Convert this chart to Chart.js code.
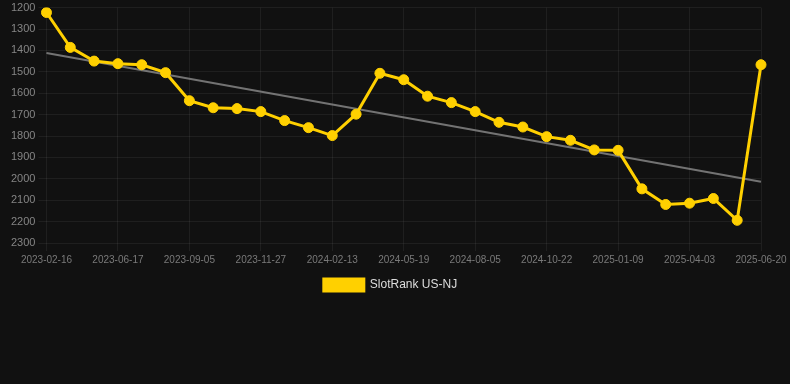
<!DOCTYPE html>
<html>
<head>
<meta charset="utf-8">
<script src="https://cdn.jsdelivr.net/npm/chart.js@4.4.1/dist/chart.umd.min.js"></script>
<style>
    html, body { margin: 0; padding: 0; background: #111111; overflow: hidden; }
    #wrap { width: 790px; height: 303px; position: relative; margin-top: -2px; }
</style>
</head>
<body>
<div id="wrap"><canvas id="rankChart"></canvas></div>
<script>
const dates = [
    '2023-02-16', '2023-03-28', '2023-05-08', '2023-06-17', '2023-07-14', '2023-08-09',
    '2023-09-05', '2023-10-02', '2023-10-31', '2023-11-27', '2023-12-23', '2024-01-18',
    '2024-02-13', '2024-03-16', '2024-04-17', '2024-05-19', '2024-06-14', '2024-07-10',
    '2024-08-05', '2024-08-31', '2024-09-26', '2024-10-22', '2024-11-17', '2024-12-14',
    '2025-01-09', '2025-02-06', '2025-03-06', '2025-04-03', '2025-04-29', '2025-05-25',
    '2025-06-20'
];
const ranks = [
    1223, 1386, 1450, 1462, 1467, 1504,
    1635, 1668, 1672, 1686, 1728, 1761,
    1798, 1698, 1507, 1537, 1614, 1644,
    1686, 1736, 1758, 1803, 1820, 1865,
    1867, 2047, 2120, 2114, 2092, 2194,
    1467
];
// trend line: value at first and last date
const trendEnds = [1412, 2014];
const yTicks = [1200, 1300, 1400, 1500, 1600, 1700, 1800, 1900, 2000, 2100, 2200, 2300];

const trendData = dates.map((d, i) => {
    if (i === 0) return trendEnds[0];
    if (i === dates.length - 1) return trendEnds[1];
    return null;
});

// nudge the legend a bit to the right, like the original
const legendShift = {
    id: 'legendShift',
    afterLayout(chart) {
        chart.legend.left += 6;
        chart.legend.right += 6;
    }
};

const ctx = document.getElementById('rankChart').getContext('2d');
new Chart(ctx, {
    type: 'line',
    data: {
        labels: dates,
        datasets: [{
            label: 'SlotRank US-NJ',
            data: ranks,
            borderColor: '#ffd000',
            backgroundColor: '#ffd000',
            borderWidth: 3,
            pointRadius: 5,
            pointHoverRadius: 5,
            pointBackgroundColor: '#ffd000',
            pointBorderColor: '#ffd000',
            pointBorderWidth: 1,
            tension: 0,
            order: 1
        }, {
            label: 'Trend',
            data: trendData,
            spanGaps: true,
            borderColor: 'rgba(140, 140, 140, 0.8)',
            borderWidth: 2,
            pointRadius: 0,
            order: 2
        }]
    },
    options: {
        responsive: true,
        maintainAspectRatio: false,
        animation: false,
        layout: { padding: { left: 8, right: 29, top: 0, bottom: 0 } },
        scales: {
            y: {
                reverse: true,
                min: yTicks[0],
                max: yTicks[yTicks.length - 1],
                afterBuildTicks: scale => { scale.ticks = yTicks.map(v => ({ value: v })); },
                ticks: {
                    color: '#858585',
                    font: { family: 'Liberation Sans, Arial, sans-serif', size: 11 },
                    callback: value => String(value)
                },
                grid: { color: 'rgba(255, 255, 255, 0.06)' },
                border: { display: false }
            },
            x: {
                ticks: {
                    autoSkip: false,
                    maxRotation: 0,
                    color: '#7a7a7a',
                    font: { family: 'Liberation Sans, Arial, sans-serif', size: 10 },
                    callback: function (value, index) {
                        return index % 3 === 0 ? this.getLabelForValue(value) : null;
                    }
                },
                grid: { color: 'rgba(255, 255, 255, 0.06)' },
                border: { display: false }
            }
        },
        plugins: {
            legend: {
                position: 'bottom',
                labels: {
                    color: '#dddddd',
                    font: { family: 'Liberation Sans, Arial, sans-serif', size: 12 },
                    boxWidth: 40,
                    boxHeight: 12,
                    filter: item => item.datasetIndex === 0
                }
            },
            tooltip: { enabled: false }
        }
    },
    plugins: [legendShift]
});
</script>
</body>
</html>
